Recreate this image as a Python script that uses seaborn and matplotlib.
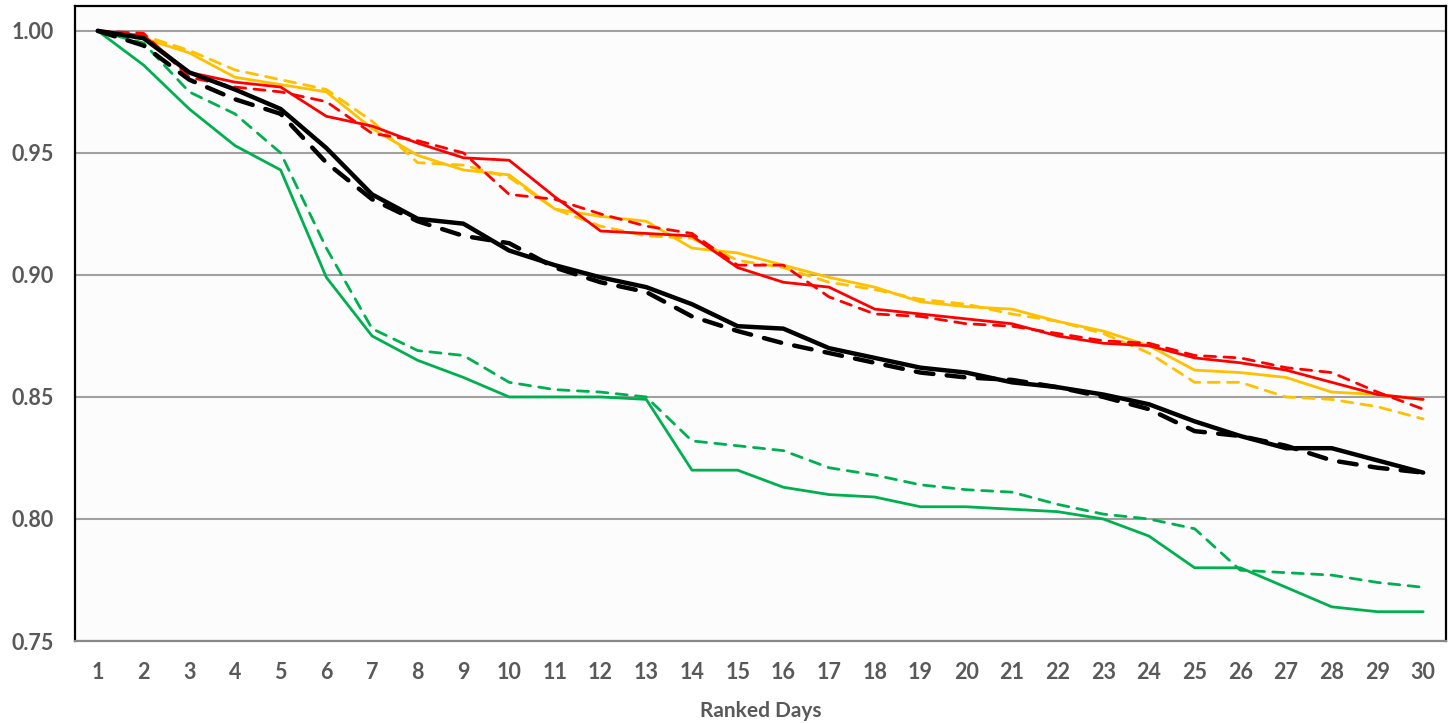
import numpy as np
import pandas as pd
import matplotlib
matplotlib.use("Agg")
import matplotlib.pyplot as plt
import seaborn as sns

days = list(range(1, 31))

green_solid = [1.000, 0.986, 0.968, 0.953, 0.943, 0.899, 0.875, 0.865, 0.858, 0.850,
               0.850, 0.850, 0.849, 0.820, 0.820, 0.813, 0.810, 0.809, 0.805, 0.805,
               0.804, 0.803, 0.800, 0.793, 0.780, 0.780, 0.772, 0.764, 0.762, 0.762]
green_dashed = [1.000, 0.995, 0.975, 0.966, 0.950, 0.911, 0.878, 0.869, 0.867, 0.856,
                0.853, 0.852, 0.850, 0.832, 0.830, 0.828, 0.821, 0.818, 0.814, 0.812,
                0.811, 0.806, 0.802, 0.800, 0.796, 0.779, 0.778, 0.777, 0.774, 0.772]
orange_solid = [1.000, 0.997, 0.991, 0.981, 0.978, 0.975, 0.960, 0.949, 0.943, 0.941,
                0.927, 0.924, 0.922, 0.911, 0.909, 0.904, 0.899, 0.895, 0.889, 0.887,
                0.886, 0.881, 0.877, 0.871, 0.861, 0.860, 0.858, 0.852, 0.851, 0.849]
orange_dashed = [1.000, 0.998, 0.992, 0.984, 0.980, 0.976, 0.963, 0.946, 0.945, 0.940,
                 0.927, 0.920, 0.916, 0.915, 0.906, 0.903, 0.897, 0.894, 0.890, 0.888,
                 0.884, 0.881, 0.876, 0.868, 0.856, 0.856, 0.850, 0.849, 0.846, 0.841]
red_solid = [1.000, 0.998, 0.983, 0.979, 0.977, 0.965, 0.961, 0.954, 0.948, 0.947,
             0.932, 0.918, 0.917, 0.916, 0.903, 0.897, 0.895, 0.886, 0.884, 0.882,
             0.880, 0.875, 0.872, 0.871, 0.866, 0.864, 0.861, 0.856, 0.851, 0.849]
red_dashed = [1.000, 0.999, 0.981, 0.977, 0.975, 0.971, 0.958, 0.955, 0.950, 0.933,
              0.931, 0.925, 0.920, 0.917, 0.904, 0.904, 0.891, 0.884, 0.883, 0.880,
              0.879, 0.876, 0.873, 0.872, 0.867, 0.866, 0.862, 0.860, 0.852, 0.845]
black_solid = [1.000, 0.997, 0.983, 0.976, 0.968, 0.952, 0.933, 0.923, 0.921, 0.910,
               0.904, 0.899, 0.895, 0.888, 0.879, 0.878, 0.870, 0.866, 0.862, 0.860,
               0.856, 0.854, 0.851, 0.847, 0.840, 0.834, 0.829, 0.829, 0.824, 0.819]
black_dashed = [1.000, 0.994, 0.980, 0.972, 0.966, 0.946, 0.931, 0.922, 0.916, 0.913,
                0.903, 0.897, 0.893, 0.883, 0.877, 0.872, 0.868, 0.864, 0.860, 0.858,
                0.857, 0.854, 0.850, 0.845, 0.836, 0.834, 0.830, 0.824, 0.821, 0.819]

y_ticks = [0.75, 0.80, 0.85, 0.90, 0.95, 1.00]
x_label = "Ranked Days"

sns.set_theme(style="white")
plt.rcParams['font.family'] = ['Lato', 'DejaVu Sans']

fig = plt.figure(figsize=(14.48, 7.23), dpi=100)
ax = fig.add_axes([75 / 1448, 1 - 641 / 723, (1446 - 75) / 1448, (641 - 6) / 723])
ax.set_facecolor("#FCFCFC")

GREEN, ORANGE, RED = "#00B050", "#FFC000", "#FF0000"
series = [
    (green_dashed, GREEN, (0, (4, 3)), 2.0),
    (green_solid, GREEN, "-", 2.0),
    (orange_dashed, ORANGE, (0, (4, 3)), 2.0),
    (orange_solid, ORANGE, "-", 2.0),
    (red_dashed, RED, (0, (4, 3)), 2.0),
    (red_solid, RED, "-", 2.0),
    (black_dashed, "black", (0, (4, 3)), 3.2),
    (black_solid, "black", "-", 3.2),
]
for vals, col, ls, lw in series:
    df = pd.DataFrame({"day": days, "value": vals})
    sns.lineplot(data=df, x="day", y="value", ax=ax, color=col, linewidth=lw,
                 linestyle=ls, dash_capstyle="round", solid_joinstyle="round",
                 solid_capstyle="round", zorder=3)

ax.set_xlim(0.5, 30.5)
ax.set_ylim(0.75, 1.0102)
ax.set_xticks(days)
ax.set_xticklabels([str(d) for d in days])
ax.set_yticks(y_ticks)
ax.set_yticklabels([f"{t:.2f}" for t in y_ticks])
ax.yaxis.grid(True, color="#A0A0A0", linewidth=1.5, zorder=1)
ax.xaxis.grid(False)
ax.set_axisbelow(True)

for side in ["left", "top", "right"]:
    ax.spines[side].set_color("black")
    ax.spines[side].set_linewidth(1.6)
ax.spines["bottom"].set_color("#888888")
ax.spines["bottom"].set_linewidth(1.6)

ax.tick_params(axis="both", length=0, labelsize=15.5, labelcolor="#595959")
ax.tick_params(axis="y", pad=15)
ax.tick_params(axis="x", pad=15)
for lab in ax.get_xticklabels() + ax.get_yticklabels():
    lab.set_fontweight("bold")

ax.set_xlabel(x_label, fontsize=15, fontweight="bold", color="#595959", labelpad=13)
ax.set_ylabel("")

fig.savefig("out.png", dpi=100, facecolor="white")
